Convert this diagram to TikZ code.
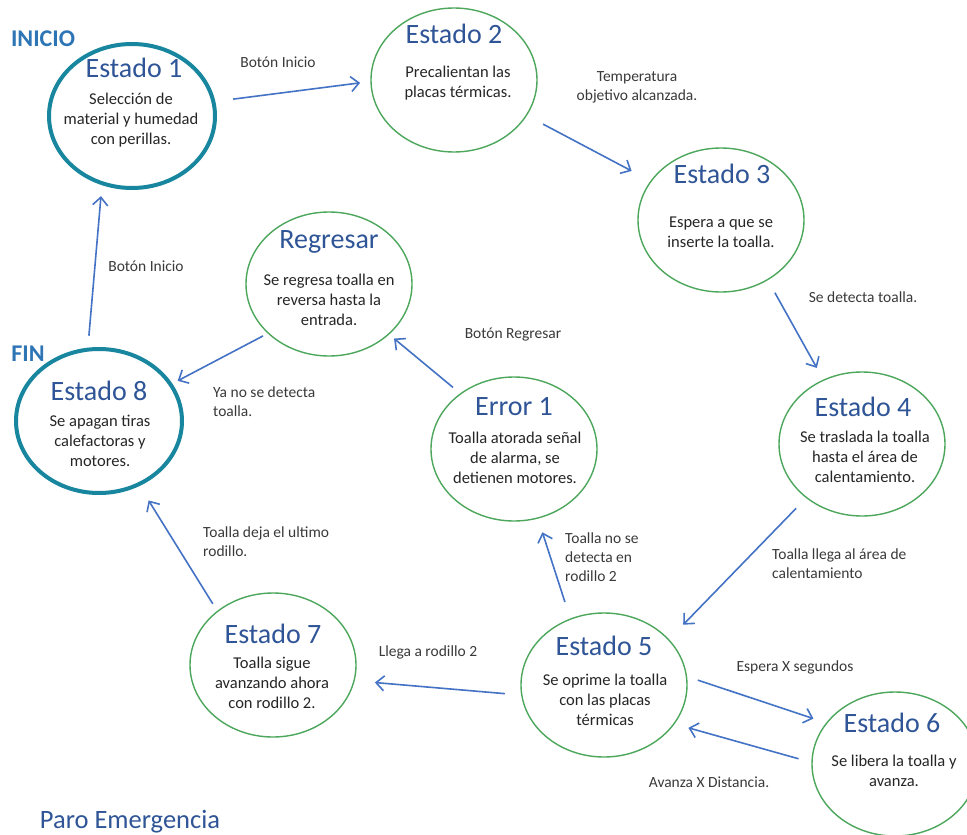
\documentclass[tikz,border=0pt]{standalone}
\usepackage{fontspec}
\setmainfont{Carlito}
\usetikzlibrary{shapes.geometric,arrows.meta}
\definecolor{stgreen}{HTML}{4CA65C}
\definecolor{stteal}{HTML}{17869E}
\definecolor{ttlblue}{HTML}{2F5597}
\definecolor{hdblue}{HTML}{2E75B6}
\definecolor{arrblue}{HTML}{4472C4}
\definecolor{bodyc}{HTML}{262626}
\definecolor{lblc}{HTML}{3A3A3A}
\tikzset{
  st/.style={ellipse, draw=stgreen, line width=1.4pt, minimum width=166pt, minimum height=144pt, inner sep=0pt, outer sep=0pt},
  stt/.style={st, draw=stteal, line width=4pt},
  ttl/.style={anchor=base, inner sep=0pt, font=\fontsize{28}{30}\selectfont, text=ttlblue},
  bdy/.style={anchor=center, inner sep=0pt, align=center, font=\fontsize{16.5}{20}\selectfont, text=bodyc},
  lbl/.style={anchor=center, inner sep=0pt, align=center, font=\fontsize{15.5}{19}\selectfont, text=lblc},
  lbll/.style={lbl, anchor=west, align=left},
  hd/.style={anchor=center, inner sep=0pt, font=\fontsize{24}{26}\selectfont\bfseries, text=hdblue},
  arr/.style={draw=arrblue, line width=1.6pt, -{Straight Barb[length=8pt,width=15pt,line width=1.6pt]}}
}
\begin{document}
\begin{tikzpicture}[x=1pt,y=-1pt]
\useasboundingbox (0,0) rectangle (967,835);
\fill[white] (0,0) rectangle (967,835);

% states
\node[stt] (e1) at (132,116) {};
\node[st]  (e2) at (454,80) {};
\node[st]  (e3) at (721,220) {};
\node[st]  (e4) at (862,444) {};
\node[st]  (rg) at (329,284) {};
\node[stt] (e8) at (99,421) {};
\node[st]  (er) at (514,449) {};
\node[st]  (e5) at (604,685) {};
\node[st]  (e6) at (895,764) {};
\node[st]  (e7) at (273,665) {};

% titles
\node[ttl] (t1) at (134,77) {Estado 1};
\node[ttl] (t2) at (454,43) {Estado 2};
\node[ttl] (t3) at (722,183) {Estado 3};
\node[ttl] (t4) at (863,416) {Estado 4};
\node[ttl] (tr) at (329,248) {Regresar};
\node[ttl] (t8) at (99,400) {Estado 8};
\node[ttl] (te) at (514,415) {Error 1};
\node[ttl] (t5) at (604,655) {Estado 5};
\node[ttl] (t6) at (892,732) {Estado 6};
\node[ttl] (t7) at (273,643) {Estado 7};

% bodies
\node[bdy] (b1) at (131,120) {Selección de\\material y humedad\\con perillas.};
\node[bdy] (b2) at (458,83) {Precalientan las\\placas térmicas.};
\node[bdy] (b3) at (721,232) {Espera a que se\\inserte la toalla.};
\node[bdy] (b4) at (865,457) {Se traslada la toalla\\hasta el área de\\calentamiento.};
\node[bdy] (br) at (329,300) {Se regresa toalla en\\reversa hasta la\\entrada.};
\node[bdy] (b8) at (100,441) {Se apagan tiras\\calefactoras y\\motores.};
\node[bdy] (be) at (515,458) {Toalla atorada señal\\de alarma, se\\detienen motores.};
\node[bdy] (b5) at (605,700) {Se oprime la toalla\\con las placas\\térmicas};
\node[bdy] (b6) at (894,771) {Se libera la toalla y\\avanza.};
\node[bdy] (b7) at (272,683) {Toalla sigue\\avanzando ahora\\con rodillo 2.};

% headings
\node[hd] (ini) at (43,39) {INICIO};
\node[hd] (fin) at (28,354) {FIN};
\node[anchor=base, inner sep=0pt, font=\fontsize{26.5}{30}\selectfont, text=ttlblue] (paro) at (130,828) {Paro Emergencia};

% connectors
\draw[arr, shorten <=20pt, shorten >=11pt] (e1.10) -- (e2.181);
\draw[arr, shorten <=19pt, shorten >=22pt] (e2.-26) -- (e3.151);
\draw[arr, shorten <=15pt, shorten >=14pt] (e3.-52) -- (e4.121);
\draw[arr, shorten <=15pt, shorten >=21pt] (e4.224) -- (e5.35);
\draw[arr, shorten <=12pt, shorten >=14pt] (e5.6) -- (e6.149);
\draw[arr, shorten <=14pt, shorten >=15pt] (e6.179) -- (e5.-29);
\draw[arr, shorten <=17pt, shorten >=21pt] (e5.187) -- (e7.-11);
\draw[arr, shorten <=18pt, shorten >=15pt] (e5.117) -- (er.-71);
\draw[arr, shorten <=10pt, shorten >=7pt] (er.134) -- (rg.-40);
\draw[arr, shorten <=6pt, shorten >=8pt] (rg.219) -- (e8.27);
\draw[arr, shorten <=9pt, shorten >=19pt] (e7.136) -- (e8.-58);
\draw[arr, shorten <=14pt, shorten >=13pt] (e8.99) -- (e1.246);

% labels
\node[lbl] (l1) at (278,62) {Botón Inicio};
\node[lbl] (l2) at (637,87) {Temperatura\\objetivo alcanzada.};
\node[lbl] (l3) at (863,297) {Se detecta toalla.};
\node[lbll] (l4) at (772,564) {Toalla llega al área de\\calentamiento};
\node[lbl] (l5) at (795,667) {Espera X segundos};
\node[lbl] (l6) at (709,782) {Avanza X Distancia.};
\node[lbl] (l7) at (428,652) {Llega a rodillo 2};
\node[lbll] (l8) at (565,557) {Toalla no se\\detecta en\\rodillo 2};
\node[lbl] (l9) at (513,335) {Botón Regresar};
\node[lbll] (l10) at (213,402) {Ya no se detecta\\toalla.};
\node[lbll] (l11) at (203,542) {Toalla deja el ultimo\\rodillo.};
\node[lbl] (l12) at (146,266) {Botón Inicio};
\end{tikzpicture}
\end{document}
